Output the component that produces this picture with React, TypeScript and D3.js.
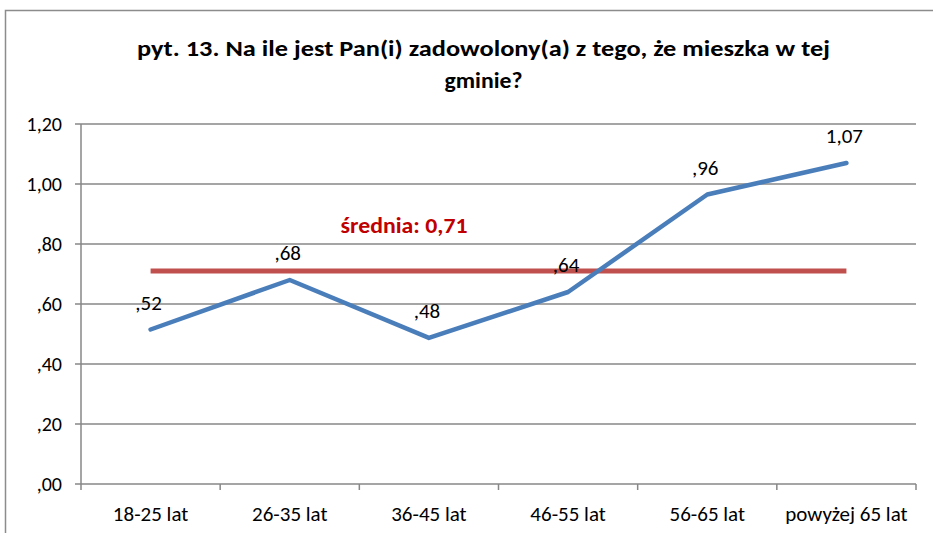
import React from "react";
import * as d3 from "d3";

const categories = ["18-25 lat", "26-35 lat", "36-45 lat", "46-55 lat", "56-65 lat", "powyżej 65 lat"];
const values = [0.515, 0.68, 0.487, 0.64, 0.965, 1.07];
const valueLabels = [",52", ",68", ",48", ",64", ",96", "1,07"];
const average = 0.71;
const averageLabel = "średnia: 0,71";
const yTicks = [0, 0.2, 0.4, 0.6, 0.8, 1.0, 1.2];
const yTickLabels = [",00", ",20", ",40", ",60", ",80", "1,00", "1,20"];
const titleLines = ["pyt. 13. Na ile jest Pan(i) zadowolony(a) z tego, że mieszka w tej", "gminie?"];

const W = 933;
const H = 533;
const left = 81;
const right = 916;
const top = 124;
const bottom = 484;
const FONT = "Carlito, Calibri, Lato, 'Open Sans', sans-serif";
const GRID = "#878787";

export default function App() {
  const x = d3.scaleBand<string>().domain(categories).range([left, right]).padding(0);
  const y = d3.scaleLinear().domain([0, 1.2]).range([bottom, top]);
  const cx = (c: string) => (x(c) as number) + x.bandwidth() / 2;

  const line = d3
    .line<number>()
    .x((_, i) => cx(categories[i]))
    .y((d) => y(d));

  const boundaries = categories.map((c) => x(c) as number).concat([right]);

  return (
    <div style={{ position: "fixed", left: 0, top: 0, width: W, height: H, background: "#fff" }}>
      <svg width={W} height={H} style={{ display: "block" }} fontFamily={FONT}>
        <rect x={0} y={0} width={W} height={H} fill="#fff" />
        {/* outer frame */}
        <path d={`M5.5,${H} L5.5,10.5 L${W},10.5`} fill="none" stroke="#8c8c8c" strokeWidth={1.5} />

        {/* title */}
        <text x={483.5} y={56} textAnchor="middle" fontSize={23} fontWeight="bold" fill="#000" textLength={693} lengthAdjust="spacingAndGlyphs">
          {titleLines[0]}
        </text>
        <text x={483.5} y={88} textAnchor="middle" fontSize={23} fontWeight="bold" fill="#000" textLength={78} lengthAdjust="spacingAndGlyphs">
          {titleLines[1]}
        </text>

        {/* gridlines */}
        {yTicks.map((t, i) => (
          <line key={i} x1={left - 6} x2={right} y1={y(t)} y2={y(t)} stroke={GRID} strokeWidth={1.5} />
        ))}
        {/* y axis */}
        <line x1={left} x2={left} y1={top} y2={bottom} stroke={GRID} strokeWidth={1.5} />
        {/* x ticks */}
        {boundaries.map((b, i) => (
          <line key={i} x1={b} x2={b} y1={bottom} y2={bottom + 6} stroke={GRID} strokeWidth={1.5} />
        ))}

        {/* y labels */}
        {yTicks.map((t, i) => (
          <text key={i} x={62} y={y(t)} dy="0.35em" textAnchor="end" fontSize={20} fill="#000">
            {yTickLabels[i]}
          </text>
        ))}

        {/* x labels */}
        {categories.map((c, i) => (
          <text key={i} x={cx(c)} y={521} textAnchor="middle" fontSize={21} fill="#000">
            {c}
          </text>
        ))}

        {/* average line */}
        <line
          x1={cx(categories[0])}
          x2={cx(categories[categories.length - 1])}
          y1={y(average)}
          y2={y(average)}
          stroke="#C0504D"
          strokeWidth={5}
        />
        <text x={404} y={233} textAnchor="middle" fontSize={22} fontWeight="bold" fill="#C00000" textLength={127} lengthAdjust="spacingAndGlyphs">
          {averageLabel}
        </text>

        {/* series line */}
        <path d={line(values) || ""} fill="none" stroke="#4A7EBB" strokeWidth={4.5} strokeLinejoin="round" strokeLinecap="round" />

        {/* data labels */}
        {values.map((v, i) => (
          <text key={i} x={cx(categories[i]) - 2} y={y(v) - 20} textAnchor="middle" fontSize={21} fill="#000">
            {valueLabels[i]}
          </text>
        ))}
      </svg>
    </div>
  );
}
